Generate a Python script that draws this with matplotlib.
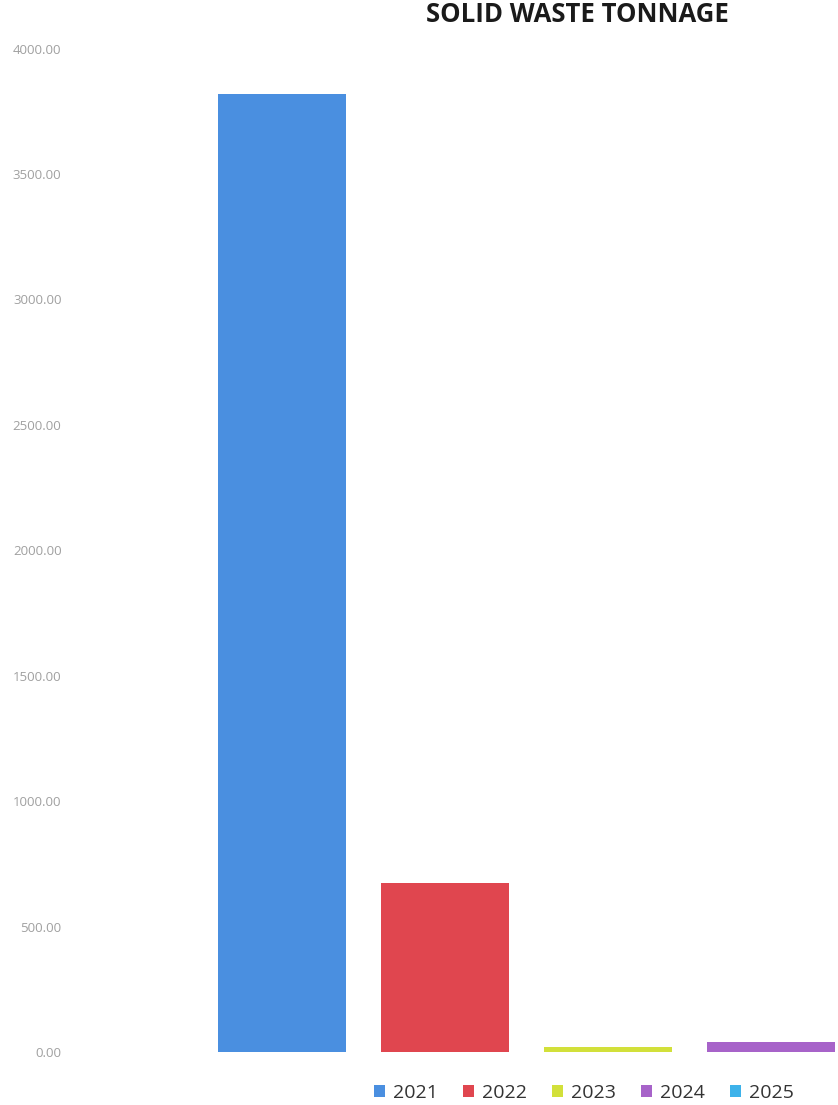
import matplotlib.pyplot as plt
import numpy as np
from matplotlib.patches import Patch

years = ["2021", "2022", "2023", "2024", "2025"]
tonnage = [3820, 674, 18, 40, 0]
colors = ["#4a8fe0", "#e0464f", "#d2e03a", "#a763c9", "#3db2ea"]
yticks = [0, 500, 1000, 1500, 2000, 2500, 3000, 3500, 4000]

plt.rcParams["font.family"] = ["Open Sans", "DejaVu Sans"]

fig = plt.figure(figsize=(8.38, 11.05), dpi=100)
ax = fig.add_axes([0.09, 0.048, 0.91, 0.908])

x = np.arange(len(years))
ax.bar(x, tonnage, width=0.785, color=colors)

ax.set_ylim(0, 4000)
ax.set_xlim(-1.27, 3.41)
ax.set_yticks(yticks)
ax.set_yticklabels([f"{v:.2f}" for v in yticks], fontsize=9.5, color="#a0a0a0")
ax.tick_params(axis="y", length=0, pad=10)
ax.set_xticks([])
for s in ax.spines.values():
    s.set_visible(False)

fig.text(0.689, 0.987, "SOLID WASTE TONNAGE", ha="center", va="center",
         fontsize=18.5, fontweight="bold", color="#1a1a1a")

handles = [Patch(facecolor=c, label=y) for c, y in zip(colors, years)]
fig.legend(handles=handles, loc="center", bbox_to_anchor=(0.697, 0.011),
           ncol=5, frameon=False, fontsize=14, handlelength=0.55,
           handleheight=0.55, handletextpad=0.42, columnspacing=1.3,
           labelcolor="#333333")

fig.savefig("out.png", dpi=100)
